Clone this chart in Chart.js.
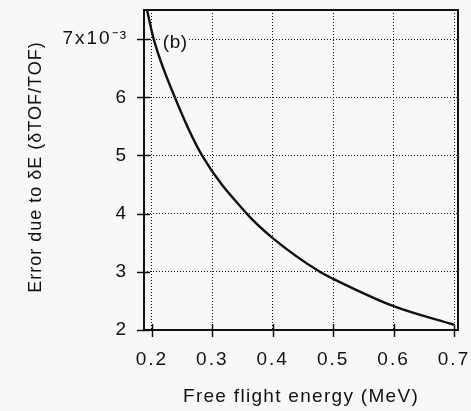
<!DOCTYPE html>
<html>
<head>
<meta charset="utf-8">
<script src="https://cdn.jsdelivr.net/npm/chart.js@4/dist/chart.umd.min.js"></script>
<style>
  html, body { margin: 0; padding: 0; background: #f8f8f8; }
  #wrap { width: 471px; height: 411px; }
</style>
</head>
<body>
<div id="wrap"><canvas id="chart"></canvas></div>
<script>
// Free flight energy (MeV) and error (x1e-3)
const energy = [0.192, 0.203, 0.238, 0.283, 0.357, 0.4, 0.478, 0.5, 0.6, 0.7];
const error = [7.5, 7.0, 6.0, 5.0, 4.0, 3.58, 3.0, 2.88, 2.41, 2.09];

const xTicks = [0.2, 0.3, 0.4, 0.5, 0.6, 0.7];
const yTicks = [2, 3, 4, 5, 6, 7];

const xTitle = 'Free flight energy (MeV)';
const yTitle = 'Error due to \u03B4E (\u03B4TOF/TOF)';
const panelTag = '(b)';

const FONT = "'Liberation Sans', Arial, sans-serif";
const INK = '#111111';
const BG = '#f8f8f8';

// Chart.js has no letter spacing option; the scanned labels are spread out
const spacing = {
  id: 'spacing',
  beforeLayout(chart) { chart.ctx.letterSpacing = '2px'; },
  beforeDraw(chart) { chart.ctx.letterSpacing = '2px'; },
};

// Frame, tick marks crossing the axes, axis titles and the panel tag
const frame = {
  id: 'frame',
  beforeDatasetsDraw(chart) {
    const { ctx, scales: { x, y } } = chart;
    ctx.save();
    ctx.letterSpacing = '0.5px';
    ctx.font = '19px ' + FONT;
    const tx = x.getPixelForValue(0.2) + 11;
    const ty = y.getPixelForValue(7) + 4;
    const w = ctx.measureText(panelTag).width;
    ctx.fillStyle = BG;
    ctx.fillRect(tx - 1, ty - 11, w + 2, 22);
    ctx.fillStyle = INK;
    ctx.textBaseline = 'middle';
    ctx.fillText(panelTag, tx, ty);
    ctx.restore();
  },
  afterDraw(chart) {
    const { ctx, chartArea: a, scales: { x, y } } = chart;
    ctx.save();
    ctx.strokeStyle = INK;
    ctx.lineWidth = 2;
    ctx.strokeRect(a.left, a.top, a.right - a.left, a.bottom - a.top);
    ctx.lineWidth = 1.5;
    ctx.beginPath();
    yTicks.forEach((v) => {
      const py = Math.round(y.getPixelForValue(v)) + 0.5;
      ctx.moveTo(a.left - 7, py);
      ctx.lineTo(a.left + 6, py);
    });
    xTicks.forEach((v) => {
      const px = Math.round(x.getPixelForValue(v)) + 0.5;
      ctx.moveTo(px, a.bottom - 6);
      ctx.lineTo(px, a.bottom + 7);
    });
    ctx.stroke();

    ctx.fillStyle = INK;
    ctx.textAlign = 'center';
    ctx.textBaseline = 'alphabetic';
    ctx.letterSpacing = '1.3px';
    ctx.font = '19px ' + FONT;
    ctx.fillText(xTitle, (a.left + a.right) / 2, 402);

    ctx.letterSpacing = '1px';
    ctx.font = '18px ' + FONT;
    ctx.translate(41, 167);
    ctx.rotate(-Math.PI / 2);
    ctx.fillText(yTitle, 0, 0);
    ctx.restore();
  },
};

const gridStyle = {
  color: INK,
  lineWidth: 1,
  drawTicks: false,
};

// keep the plot box where the reference has it
function noPadding(scale) {
  scale.paddingTop = 0;
  scale.paddingBottom = 0;
  scale.paddingLeft = 0;
  scale.paddingRight = 0;
}

new Chart(document.getElementById('chart'), {
  type: 'line',
  data: {
    datasets: [{
      data: energy.map((e, i) => ({ x: e, y: error[i] })),
      borderColor: INK,
      borderWidth: 2.4,
      pointRadius: 0,
      cubicInterpolationMode: 'monotone',
      fill: false,
    }],
  },
  options: {
    responsive: true,
    maintainAspectRatio: false,
    animation: false,
    layout: { padding: { top: 10, right: 13, left: 0, bottom: 0 } },
    plugins: { legend: { display: false }, tooltip: { enabled: false } },
    scales: {
      x: {
        type: 'linear',
        min: 0.187,
        max: 0.7066,
        border: { display: false, dash: [1, 2] },
        grid: gridStyle,
        ticks: {
          stepSize: 0.1,
          includeBounds: false,
          padding: 18,
          color: INK,
          font: { family: FONT, size: 19 },
          maxRotation: 0,
          callback: (v) => v.toFixed(1),
        },
        afterFit(scale) { scale.height = 81; noPadding(scale); },
      },
      y: {
        type: 'linear',
        min: 2,
        max: 7.5,
        border: { display: false, dash: [1, 2] },
        grid: gridStyle,
        ticks: {
          stepSize: 1,
          includeBounds: false,
          padding: 16,
          color: INK,
          font: { family: FONT, size: 19 },
          callback: (v) => (v === 7 ? '7x10\u207B\u00B3' : String(v)),
        },
        afterFit(scale) { scale.width = 144; noPadding(scale); },
      },
    },
  },
  plugins: [spacing, frame],
});
</script>
</body>
</html>
